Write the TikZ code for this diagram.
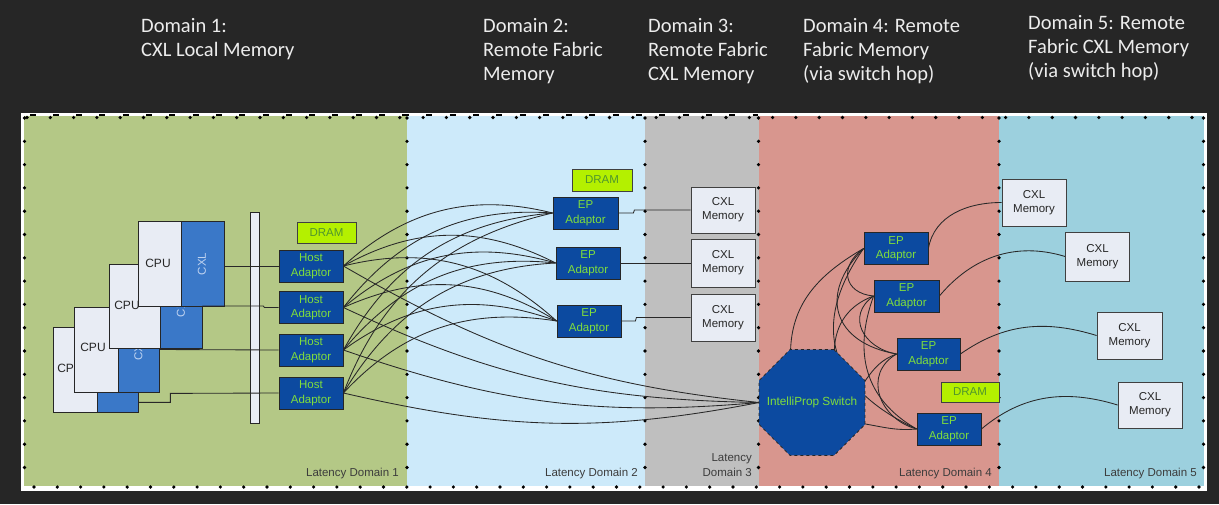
\documentclass[tikz,border=0pt]{standalone}
\usepackage{fontspec}
\setmainfont{Liberation Sans}
\newfontfamily\hdrfont{Carlito}
\usetikzlibrary{shapes.geometric,calc}
\pgfdeclarelayer{bg}
\pgfdeclarelayer{wires}
\pgfsetlayers{bg,wires,main}

\definecolor{bgdark}{RGB}{38,38,38}
\definecolor{dOne}{RGB}{180,200,134}
\definecolor{dTwo}{RGB}{205,234,250}
\definecolor{dThree}{RGB}{191,191,191}
\definecolor{dFour}{RGB}{216,150,142}
\definecolor{dFive}{RGB}{156,208,222}
\definecolor{adBlue}{RGB}{12,74,160}
\definecolor{adGreen}{RGB}{128,222,60}
\definecolor{cxlBlue}{RGB}{58,120,200}
\definecolor{cxlText}{RGB}{190,210,240}
\definecolor{paleBox}{RGB}{232,236,244}
\definecolor{limeBox}{RGB}{180,240,0}
\definecolor{dramText}{RGB}{80,150,45}
\definecolor{wireCol}{RGB}{40,40,40}
\definecolor{hdrText}{RGB}{236,236,236}
\definecolor{latText}{RGB}{60,60,60}

\begin{document}
\begin{tikzpicture}[x=1pt,y=-1pt,
  boxline/.style={draw=black!85,line width=0.8pt},
  cpubox/.style={boxline,fill=paleBox,inner sep=0pt},
  cxlbox/.style={boxline,fill=cxlBlue,inner sep=0pt},
  cputxt/.style={font=\fontsize{12}{14}\selectfont,text=black!85,inner sep=0pt},
  cxltxt/.style={font=\fontsize{11.5}{14}\selectfont,text=cxlText,rotate=90,inner sep=0pt},
  adaptor/.style={boxline,fill=adBlue,text=adGreen,font=\fontsize{11.5}{14.5}\selectfont,align=center,inner sep=0pt,minimum width=64pt,minimum height=32pt},
  dram/.style={draw=black!75,line width=0.8pt,fill=limeBox,text=dramText,font=\fontsize{11.5}{14}\selectfont,inner sep=0pt,minimum width=59pt,minimum height=21pt},
  cxlmem/.style={draw=black!75,line width=0.8pt,fill=paleBox,text=black!85,font=\fontsize{11.5}{14}\selectfont,align=center,inner sep=0pt,minimum width=64pt,minimum height=47pt},
  wire/.style={draw=wireCol,line width=0.85pt},
  dotline/.style={draw=black,line width=3.6pt,line cap=round,dash pattern=on 0pt off 23.3pt},
  hdr/.style={text=hdrText,font=\hdrfont\fontsize{20.5}{24}\selectfont,anchor=base west,inner sep=0pt},
  latency/.style={text=latText,font=\fontsize{11.5}{14}\selectfont,anchor=base east,inner sep=0pt}
]
\useasboundingbox (0,0) rectangle (1219,504);

\begin{pgfonlayer}{bg}
\fill[bgdark] (0,0) rectangle (1219,504);
\fill[white] (21,112.5) rectangle (1207,490.5);
\fill[dOne] (24,116) rectangle (407,486);
\fill[dTwo] (407,116) rectangle (645,486);
\fill[dThree] (645,116) rectangle (758.5,486);
\fill[dFour] (758.5,116) rectangle (999,486);
\fill[dFive] (999,116) rectangle (1204,486);
\draw[dotline] (24.5,118) -- (24.5,488);
\foreach \xx in {407,645,758.5,999,1203.5} \draw[dotline] (\xx,118) -- (\xx,488);
\draw[dotline] (27,117.5) -- (1205,117.5);
\draw[black,line width=1.3pt,dash pattern=on 6pt off 17.3pt] (29.5,115) -- (407,115);
\draw[black,line width=1.3pt,dash pattern=on 6pt off 17.3pt] (403,115) -- (758,115);
\draw[dotline] (34,487) -- (1205,487);
\end{pgfonlayer}

% headers
\node[hdr] (hA1) at (141,32) {Domain 1:};
\node[hdr] (hA2) at (141,56) {CXL Local Memory};
\node[hdr] (hB1) at (483,32) {Domain 2:};
\node[hdr] (hB2) at (483,56) {Remote Fabric};
\node[hdr] (hB3) at (483,80) {Memory};
\node[hdr] (hC1) at (648,32) {Domain 3:};
\node[hdr] (hC2) at (648,56) {Remote Fabric};
\node[hdr] (hC3) at (648,80) {CXL Memory};
\node[hdr] (hD1) at (803,32) {Domain 4: Remote};
\node[hdr] (hD2) at (803,56) {Fabric Memory};
\node[hdr] (hD3) at (803,80) {(via switch hop)};
\node[hdr] (hE1) at (1028,29) {Domain 5: Remote};
\node[hdr] (hE2) at (1028,53) {Fabric CXL Memory};
\node[hdr] (hE3) at (1028,77) {(via switch hop)};

% CPU cards (back to front)
\node[cpubox,minimum width=44pt,minimum height=85pt] (cpu4) at (75,369.5) {};
\node[cxlbox,minimum width=41pt,minimum height=85pt] (cxl4) at (117.5,369.5) {};
\node[cputxt] (t4) at (70,368) {CPU};
\node[cpubox,minimum width=44pt,minimum height=85pt] (cpu3) at (96,349.5) {};
\node[cxlbox,minimum width=41pt,minimum height=85pt] (cxl3) at (138.5,349.5) {};
\node[cputxt] (t3) at (93,347) {CPU};
\node[cxltxt] (x3) at (138.5,349.5) {CXL};
\node[cpubox,minimum width=51pt,minimum height=84pt] (cpu2) at (134.5,306) {};
\node[cxlbox,minimum width=42pt,minimum height=84pt] (cxl2) at (181,306) {};
\node[cputxt] (t2) at (127,305) {CPU};
\node[cxltxt] (x2) at (181,306) {CXL};
\node[cpubox,minimum width=43pt,minimum height=85pt] (cpu1) at (159.5,263.5) {};
\node[cxlbox,minimum width=43pt,minimum height=85pt] (cxl1) at (202.5,263.5) {};
\node[cputxt] (t1) at (158,263) {CPU};
\node[cxltxt] (x1) at (202,264) {CXL};

% bus bar
\node[boxline,fill=paleBox,minimum width=9pt,minimum height=211pt,inner sep=0pt] (bus) at (254.5,317.5) {};

% host adaptors
\node[adaptor] (h1) at (311,266) {Host\\Adaptor};
\node[adaptor] (h2) at (311,307.5) {Host\\Adaptor};
\node[adaptor] (h3) at (311,350) {Host\\Adaptor};
\node[adaptor] (h4) at (311,393) {Host\\Adaptor};
\node[dram] (dr1) at (326.5,232.5) {DRAM};

% card -> host lines
\draw[wire] (cxl1.east |- h1.west) -- (h1.west);
\draw[wire] (cxl2.east) -- ++(61,0) -- ++(1,1.5) -- (h2.west);
\draw[wire] (cxl3.east) -- (h3.west);
\coordinate (c4out) at ($(cxl4.south east)+(0,-10)$);
\draw[wire] (c4out) -- ++(32,0) -- ++(0,-9) -- (h4.west);

% domain 2 EP adaptors
\node[adaptor,minimum width=65pt] (e1) at (585.5,213) {EP\\Adaptor};
\node[adaptor] (e2) at (588,263) {EP\\Adaptor};
\node[adaptor] (e3) at (589,321) {EP\\Adaptor};
\node[dram,minimum width=60pt,minimum height=22pt] (dr2) at (602,180) {DRAM};

% domain 3 memories
\node[cxlmem,minimum height=46pt] (ma) at (723,210) {CXL\\Memory};
\node[cxlmem,minimum height=48pt] (mb) at (723,263) {CXL\\Memory};
\node[cxlmem] (mc) at (723,317.5) {CXL\\Memory};
\draw[wire] (e1.east) -- ++(15,0) -- ++(1,-3) -- (ma.west);
\draw[wire] (e2.east) -- (mb.west);
\draw[wire] (e3.east) -- ++(14,0) -- ++(1,-3.5) -- (mc.west);

% switch
\node[regular polygon,regular polygon sides=8,minimum size=114.7pt,draw=black!85,dashed,line width=0.8pt,fill=adBlue,inner sep=0pt,outer sep=0pt] (sw) at (812,402.5) {};
\node[text=adGreen,font=\fontsize{11.8}{14}\selectfont,inner sep=0pt] (swt) at (sw.center) {IntelliProp Switch};

% domain 4 EP adaptors
\node[adaptor] (ea) at (896,248.5) {EP\\Adaptor};
\node[adaptor,minimum width=65pt] (eb) at (906.5,296) {EP\\Adaptor};
\node[adaptor,minimum width=63pt] (ec) at (928.5,354) {EP\\Adaptor};
\node[adaptor] (ed) at (949,429) {EP\\Adaptor};
\node[dram,minimum width=58pt,minimum height=20pt] (dr4) at (970,392) {DRAM};

% domain 5 memories
\node[cxlmem] (n1) at (1034,202.5) {CXL\\Memory};
\node[cxlmem,minimum height=49pt] (n2) at (1097.5,256.5) {CXL\\Memory};
\node[cxlmem,minimum width=65pt] (n3) at (1129.5,335.5) {CXL\\Memory};
\node[cxlmem,minimum height=46pt] (n4) at (1150,405) {CXL\\Memory};

\begin{pgfonlayer}{wires}
% host -> EP mesh
\foreach \hh/\ee/\oo/\ii in {h1/e1/42/166,h1/e2/29/153,h1/e3/14/138,
  h2/e1/52/176,h2/e2/40/164,h2/e3/24/148,
  h3/e1/61/185,h3/e2/50/174,h3/e3/36/160,
  h4/e1/69/193,h4/e2/59/183,h4/e3/47/171}
  \draw[wire] (\hh.east) to[out=\oo,in=\ii] (\ee.west);
% host -> switch
\foreach \hh/\oo/\ii in {h1/-30/174,h2/-25/179,h3/-19/185,h4/-13/191}
  \draw[wire] (\hh.east) to[out=\oo,in=\ii] (sw.west);
% switch / EP mesh in domain 4
\draw[wire] (sw.112.5) to[out=88,in=210] (ea.west);
\draw[wire] (sw.67.5) to[out=88,in=200] (eb.west);
\draw[wire] (sw.22.5) to[out=55,in=200] (ec.west);
\draw[wire] (sw.-22.5) to[out=-10,in=185] (ed.west);
\draw[wire] (ea.west) to[out=215,in=175,looseness=1.6] (eb.west);
\draw[wire] (ea.west) to[out=225,in=170,looseness=1.5] (ec.west);
\draw[wire] (ea.west) to[out=235,in=155,looseness=1.3] (ed.west);
\draw[wire] (eb.west) to[out=215,in=170,looseness=1.4] (ec.west);
\draw[wire] (eb.west) to[out=250,in=150,looseness=1.1] (ed.west);
\draw[wire] (ec.west) to[out=210,in=165,looseness=1.3] (ed.west);
% EP -> memory in domain 5
\draw[wire] (ea.east) to[out=80,in=180] (n1.west);
\draw[wire] (eb.east) to[out=50,in=163] (n2.west);
\draw[wire] (ec.east) to[out=35,in=163] (n3.west);
\draw[wire] (ed.east) to[out=40,in=163] (n4.west);
\end{pgfonlayer}

% latency labels
\node[latency] (ld1) at (399,476) {Latency Domain 1};
\node[latency] (ld2) at (638,476) {Latency Domain 2};
\node[latency] (ld3a) at (752,461.5) {Latency};
\node[latency] (ld3b) at (752,476.5) {Domain 3};
\node[latency] (ld4) at (992,476) {Latency Domain 4};
\node[latency] (ld5) at (1197,476) {Latency Domain 5};
\end{tikzpicture}
\end{document}
